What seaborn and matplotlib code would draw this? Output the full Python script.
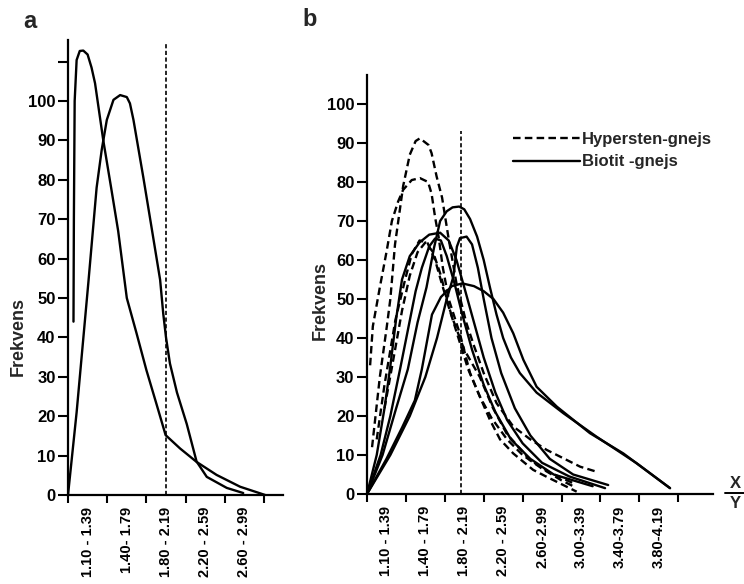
import matplotlib
matplotlib.use("Agg")
import matplotlib.pyplot as plt
import seaborn as sns
import pandas as pd
from matplotlib.lines import Line2D

# ---------------- data (x in class-interval units, y = Frekvens) ----------------
bins_a = ["1.10 - 1.39", "1.40- 1.79", "1.80 - 2.19", "2.20 - 2.59", "2.60 - 2.99"]
bins_b = ["1.10 - 1.39", "1.40 - 1.79", "1.80 - 2.19", "2.20 - 2.59",
          "2.60-2.99", "3.00-3.39", "3.40-3.79", "3.80-4.19"]
yticks_a = [0, 10, 20, 30, 40, 50, 60, 70, 80, 90, 100, 110]
yticklabels_a = ["0", "10", "20", "30", "40", "50", "60", "70", "80", "90", "100", ""]
yticks_b = [0, 10, 20, 30, 40, 50, 60, 70, 80, 90, 100]

# panel a
a1_x = [0.14, 0.15, 0.17, 0.22, 0.30, 0.39, 0.50, 0.60, 0.69, 0.90, 1.10, 1.28, 1.50, 1.75,
        2.00, 2.26, 2.49, 2.86, 3.28, 3.79, 4.39, 5.03]
a1_y = [44, 70, 100, 110.4, 112.7, 112.8, 111.8, 108.5, 104.5, 90, 78, 67, 50, 41,
        31.7, 23, 15.2, 11.8, 8.4, 5.1, 2.1, 0]
a2_x = [0.00, 0.22, 0.52, 0.73, 0.86, 0.99, 1.16, 1.33, 1.50, 1.58, 1.67, 1.92, 2.13, 2.35,
        2.43, 2.50, 2.60, 2.78, 3.03, 3.28, 3.54, 4.05, 4.47]
a2_y = [0, 21, 54, 78, 87.6, 95.2, 100.3, 101.5, 101, 99.4, 95.2, 80.7, 68, 54.6,
        46, 40, 33.4, 26, 18, 8.5, 4.6, 1.8, 0.5]
ref_a_x, ref_a_top = 2.5, 115

# panel b, Hypersten-gnejs (dashed)
h1_x = [0.13, 0.33, 0.51, 0.60, 0.72, 0.93, 1.10, 1.25, 1.36, 1.58, 1.66, 1.79, 1.93, 2.09,
        2.30, 2.55, 2.75, 3.00, 3.33, 3.76, 4.20, 4.62, 5.48, 5.94]
h1_y = [12, 30, 43, 50, 64, 79, 87, 90.5, 91.2, 89.5, 87.4, 81.4, 76, 66,
        54, 44, 38, 31, 23.3, 17.3, 14, 11.3, 7, 5.6]
h2_x = [0.08, 0.15, 0.33, 0.50, 0.64, 0.80, 0.93, 1.15, 1.36, 1.57, 1.66, 1.75, 1.84, 1.95,
        2.10, 2.39, 2.65, 2.90, 3.16, 3.42, 3.76, 4.27, 4.62, 5.39]
h2_y = [33, 43, 53, 62, 70, 75, 78, 80.5, 81, 80, 77, 71, 66, 58,
        50, 41, 31, 25, 19, 14, 10.4, 6.2, 4.4, 0.6]
h3_x = [0.25, 0.45, 0.73, 0.98, 1.15, 1.35, 1.55, 1.75, 1.95, 2.20, 2.50, 2.90, 3.24, 3.59,
        4.19, 4.70, 5.34]
h3_y = [14, 28, 44.6, 55, 61.5, 65, 64.5, 60, 53, 45, 37, 30, 22, 15.5,
        8.7, 5.5, 2.6]
h4_x = [0.45, 0.65, 0.90, 1.10, 1.30, 1.50, 1.70, 1.90, 2.10, 2.35, 2.60, 2.90, 3.20, 3.60,
        4.00, 4.50, 5.00, 5.30]
h4_y = [22, 33, 47, 56, 62, 64.5, 62, 56, 48, 40, 32, 25, 19.5, 14,
        10, 6.5, 3.5, 2]

# panel b, Biotit-gnejs (solid)
s1_x = [0.00, 0.40, 0.75, 1.05, 1.30, 1.53, 1.72, 1.88, 2.05, 2.20, 2.37, 2.50, 2.65, 2.83,
        3.00, 3.16, 3.33, 3.50, 3.70, 3.93, 4.36, 5.05, 5.90, 6.93, 7.79]
s1_y = [0, 10, 22, 32, 44, 53, 63, 70, 72.5, 73.5, 73.7, 73, 70.5, 66,
        60, 53, 46, 40, 35, 31, 26, 20.7, 14.7, 7.9, 1.5]
s2_x = [0.00, 0.60, 1.10, 1.50, 1.80, 2.05, 2.22, 2.31, 2.39, 2.56, 2.70, 2.85, 3.00,
        3.20, 3.45, 3.80, 4.20, 4.70, 5.30, 6.20]
s2_y = [0, 10, 20, 30, 40, 50, 55.7, 63.4, 65.6, 66, 64, 58, 50,
        40, 31, 22, 15, 9, 5, 2.3]
s3_x = [0.00, 0.25, 0.45, 0.59, 0.75, 0.90, 1.10, 1.35, 1.60, 1.88, 2.10, 2.30, 2.50, 2.75,
        3.00, 3.30, 3.60, 4.00, 4.50, 5.20, 6.12]
s3_y = [0, 10, 22, 32, 45, 55, 61, 64.5, 66.5, 67, 65, 60, 53, 44,
        35, 26, 19, 13, 8, 4.5, 1.5]
s4_x = [0.00, 0.35, 0.60, 0.85, 1.05, 1.25, 1.41, 1.60, 1.75, 1.90, 2.05, 2.25, 2.45, 2.70,
        3.00, 3.30, 3.70, 4.20, 4.80, 5.80]
s4_y = [0, 10, 20, 32, 42, 52, 58, 63.5, 65.5, 65, 61, 54, 46, 37,
        28, 21, 14, 9, 5, 2]
s5_x = [0.00, 0.50, 0.90, 1.23, 1.41, 1.67, 1.90, 2.18, 2.45, 2.75, 3.00, 3.25, 3.50, 3.76,
        4.02, 4.36, 4.88, 5.73, 6.59, 7.79]
s5_y = [0, 9, 17, 24, 32, 46, 50.5, 53.3, 54, 53.3, 52, 50, 46.5, 41.2,
        34.4, 27.5, 22.4, 15.6, 10.4, 1.5]
ref_b_x, ref_b_top = 2.42, 93

legend_labels = ["Hypersten-gnejs", "Biotit -gnejs"]

# ---------------- style ----------------
sns.set_theme(style="white")
plt.rcParams["font.family"] = ["Liberation Sans", "DejaVu Sans"]
plt.rcParams["font.weight"] = "bold"
plt.rcParams["axes.linewidth"] = 1.6
plt.rcParams["axes.edgecolor"] = "black"

W, H = 744, 584
fig = plt.figure(figsize=(W / 100, H / 100), dpi=100)


def px_axes(x0, ytop, x1, ybot):
    return fig.add_axes([x0 / W, 1 - ybot / H, (x1 - x0) / W, (ybot - ytop) / H])


axa = px_axes(68, 40, 283, 495)
axb = px_axes(367, 75, 713, 494)

SOLID = dict(color="black", linewidth=1.7)
DASH = dict(color="black", linewidth=1.7, linestyle=(0, (3.2, 1.8)))


def draw(ax, xs, ys, kw):
    df = pd.DataFrame({"x": xs, "y": ys})
    sns.lineplot(data=df, x="x", y="y", ax=ax, sort=False, estimator=None, **kw)


draw(axa, a1_x, a1_y, SOLID)
draw(axa, a2_x, a2_y, SOLID)
axa.vlines(ref_a_x, 0, ref_a_top, color="black", linewidth=1.2, linestyles=(0, (2.5, 1.5)))

for xs, ys in [(h1_x, h1_y), (h2_x, h2_y), (h3_x, h3_y), (h4_x, h4_y)]:
    draw(axb, xs, ys, DASH)
for xs, ys in [(s1_x, s1_y), (s2_x, s2_y), (s3_x, s3_y), (s4_x, s4_y), (s5_x, s5_y)]:
    draw(axb, xs, ys, SOLID)
axb.vlines(ref_b_x, 0, ref_b_top, color="black", linewidth=1.2, linestyles=(0, (2.5, 1.5)))

# axes formatting
axa.set_xlim(0, 215 / 39.2)
axa.set_ylim(0, 455 / 3.94)
axb.set_xlim(0, 346 / 38.9)
axb.set_ylim(0, 419 / 3.9)

for ax, bins, yt, ytl in [(axa, bins_a, yticks_a, yticklabels_a),
                          (axb, bins_b, yticks_b, [str(v) for v in yticks_b])]:
    sns.despine(ax=ax)
    ax.set_xlabel("")
    ax.set_ylabel("")
    n = len(bins)
    ax.set_xticks(range(n + 1))
    ax.set_xticklabels([""] * (n + 1))
    ax.set_xticks([i + 0.5 for i in range(n)], minor=True)
    ax.set_xticklabels(bins, minor=True, rotation=90, fontsize=10.5, fontweight="bold")
    ax.set_yticks(yt)
    ax.set_yticklabels(ytl, fontsize=12, fontweight="bold")
    ax.tick_params(axis="x", which="major", bottom=True, direction="out",
                   length=6, width=1.5, color="black")
    ax.tick_params(axis="x", which="minor", bottom=True, length=0, pad=8.5, labelcolor="black")
    ax.tick_params(axis="y", which="major", left=True, direction="out",
                   length=7, width=1.5, pad=2, color="black", labelcolor="black")
    ax.grid(False)

# legend
handles = [Line2D([], [], **DASH), Line2D([], [], **SOLID)]
fig.legend(handles, legend_labels, loc="upper left", bbox_to_anchor=(498 / W, 1 - 117 / H),
           frameon=False, handlelength=4.0, handletextpad=0.15, labelspacing=0.45,
           prop={"family": "Liberation Sans", "weight": "bold", "size": 12})

# texts
fig.text(30 / W, 1 - 22 / H, "a", fontsize=17, fontweight="bold", ha="center", va="center")
fig.text(310 / W, 1 - 20 / H, "b", fontsize=17, fontweight="bold", ha="center", va="center")
fig.text(18 / W, 1 - 336 / H, "Frekvens", rotation=90, fontsize=13, fontweight="bold",
         ha="center", va="center")
fig.text(320 / W, 1 - 300 / H, "Frekvens", rotation=90, fontsize=13, fontweight="bold",
         ha="center", va="center")
fig.text(735 / W, 1 - 483 / H, "X", fontsize=12, fontweight="bold", ha="center", va="center")
fig.text(735 / W, 1 - 504 / H, "Y", fontsize=12, fontweight="bold", ha="center", va="center")
fig.add_artist(Line2D([725 / W, 744 / W], [1 - 493 / H, 1 - 493 / H], color="black",
                      linewidth=1.4, transform=fig.transFigure))

fig.savefig("out.png", dpi=100)
